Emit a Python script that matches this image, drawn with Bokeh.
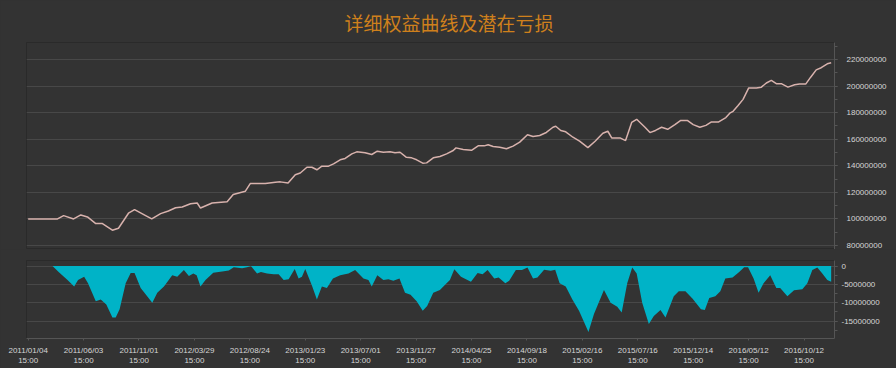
from bokeh.plotting import figure
from bokeh.layouts import column
from bokeh.models import Range1d, FixedTicker, NumeralTickFormatter, Title
from bokeh.embed import file_html
from bokeh.resources import INLINE

# ---- data (period index, value) ----
tick_index = [0, 10, 20, 30, 40, 50, 60, 70, 80, 90, 100, 110, 120, 130, 140]
tick_labels = ["2011/01/04", "2011/06/03", "2011/11/01", "2012/03/29", "2012/08/24",
               "2013/01/23", "2013/07/01", "2013/11/27", "2014/04/25", "2014/09/18",
               "2015/02/16", "2015/07/16", "2015/12/14", "2016/05/12", "2016/10/12"]
tick_time = "15:00"

equity_x = [0, 5.3, 6.4, 8.2, 9.5, 10.7, 12.2, 13.4, 15.2, 16.3, 18.1, 19.2, 21.2, 22.3,
            23.9, 25.3, 26.6, 27.8, 29.3, 30.5, 31.1, 33.2, 35.9, 37.0, 39.2, 40.1, 42.8,
            44.6, 45.5, 46.9, 48.2, 49.1, 50.3, 51.2, 52.1, 53.0, 54.2, 55.1, 56.3, 57.2,
            58.4, 59.3, 60.8, 62.0, 63.0, 64.1, 65.3, 66.2, 67.1, 68.2, 69.2, 70.1, 71.2,
            71.9, 73.1, 74.3, 75.5, 76.7, 77.2, 78.5, 80.0, 81.2, 82.3, 83.0, 83.9, 85.1,
            86.3, 87.5, 88.7, 90.1, 91.1, 92.3, 93.5, 94.7, 95.2, 96.1, 97.0, 98.3, 99.5,
            101.0, 102.3, 103.7, 104.6, 105.3, 106.8, 107.8, 108.9, 109.8, 111.3, 112.2,
            113.2, 114.3, 115.4, 116.7, 117.7, 119.0, 120.0, 121.2, 122.3, 123.3, 124.6,
            125.9, 126.6, 127.2, 128.1, 129.0, 130.0, 131.4, 132.3, 133.2, 134.1, 135.0,
            135.9, 137.1, 138.3, 139.2, 140.3, 141.2, 142.2, 143.1, 144.2, 144.9]
equity_m = [100, 100, 102.5, 100, 103, 101.5, 96.5, 96.5, 91.5, 93, 104.3, 107, 102.5, 100,
            104, 106, 108.4, 109, 111.4, 112, 108.2, 112, 113, 118.4, 120.9, 126.7, 126.7,
            127.7, 127.9, 127, 133.3, 134.6, 138.9, 138.9, 137, 139.7, 139.7, 141.5, 144.5, 145.5,
            149, 150.5, 149.8, 148.5, 151, 150.2, 150.5, 149.8, 150.2, 146.5, 146, 144.5, 142,
            142.2, 146, 147, 149, 151.5, 153.5, 152.3, 151.7, 155, 155, 155.8, 154.5, 154,
            152.8, 154.8, 157.8, 163.4, 162.1, 162.8, 165.1, 169, 169.8, 166.6, 165.6, 161.5, 158.5,
            153.7, 158.5, 164.5, 166, 161, 161, 159, 172.6, 175, 169, 165,
            166.6, 169, 167.5, 171, 174, 174, 171, 169, 170.4, 173, 173,
            176.3, 179.6, 181, 185.4, 190, 198.5, 198.5, 199.2, 202.3, 204.3, 201.8,
            201.8, 199.2, 201, 201.5, 201.5, 206.7, 212.2, 213.8, 216.8, 217.5]

dd_x = [0, 4.4, 5.5, 7.1, 8.3, 9.0, 10.1, 10.8, 12.2, 13.1, 14.1, 15.2, 15.8, 16.5, 17.6,
        18.5, 19.2, 20.3, 22.4, 23.3, 24.5, 26.0, 26.9, 28.1, 29.0, 29.8, 30.4, 31.1, 32.0,
        33.4, 35.0, 36.2, 37.1, 38.6, 39.5, 40.2, 41.3, 42.0, 43.1, 44.3, 45.2, 46.1, 47.0,
        48.1, 48.8, 49.4, 50.0, 51.2, 52.1, 53.0, 53.9, 55.0, 56.3, 57.8, 59.0, 60.5, 61.4,
        62.0, 63.0, 64.1, 65.0, 65.9, 67.0, 68.0, 69.0, 70.1, 71.2, 72.0, 73.1, 74.3, 75.5,
        76.1, 76.9, 78.1, 79.9, 81.1, 82.0, 82.9, 84.1, 84.9, 86.1, 86.8, 88.0, 89.1, 90.1,
        91.1, 91.9, 93.1, 94.3, 95.1, 95.9, 97.0, 98.2, 99.4, 101.1, 102.1, 103.9, 105.1,
        106.3, 107.1, 108.1, 109.0, 109.8, 110.8, 112.0, 112.9, 114.1, 115.0, 116.5, 117.4,
        118.6, 119.9, 121.4, 122.1, 122.9, 124.0, 124.9, 125.8, 127.1, 128.3, 129.2, 129.9,
        130.9, 131.8, 132.7, 133.9, 135.0, 135.7, 137.0, 138.2, 139.7, 140.6, 141.5, 142.4,
        143.3, 144.2, 144.9]
dd_m = [0, 0, -1.6, -3.8, -5.6, -3.8, -2.9, -4.7, -9.6, -9.1, -10.5, -14, -14, -11.8, -4.7,
        -1.9, -1.9, -6, -10, -7.3, -5.6, -2.5, -2.9, -1.1, -2.7, -2, -2.5, -5.6, -3.8,
        -1.8, -1.5, -1.2, -0.3, -0.6, -0.3, 0, -2, -1.6, -2, -2.2, -2.2, -3.8, -3.6,
        -0.8, -3.4, -2.9, -0.8, -5.3, -9.1, -5.6, -6, -3.4, -2.5, -2, -1.1, -3.4, -3.8,
        -5.6, -2.5, -3.8, -3.6, -4, -3.4, -7.3, -7.8, -9.6, -12.2, -10.9, -7.3, -6.5, -4.7,
        -3.8, -0.9, -2.9, -4.3, -1.9, -2.2, -1.1, -3.4, -3.1, -4.7, -4, -1.1, -1.1, -0.4,
        -3.4, -3.1, -1, -1.3, -1, -4.7, -5.6, -9.1, -12.2, -18, -13.1, -6.5, -10,
        -11.1, -12.7, -4.7, -0.4, -2, -10, -15.8, -13.6, -12, -14, -8.2, -6.9,
        -6.9, -8.9, -11.8, -12, -8.7, -8.2, -6.9, -3.4, -3.1, -1.6, -0.3, -0.3,
        -3.4, -7.3, -4.7, -2.5, -6, -6, -8.2, -6.6, -6.3, -4.7, -1.1, -0.4,
        -2, -3.8, -4.3]

equity_ticks_m = [80, 100, 120, 140, 160, 180, 200, 220]
dd_ticks_m = [0, -5, -10, -15]
title_text = "详细权益曲线及潜在亏损"

# ---- styling ----
BG = "#333333"
GRID = "#484848"
TXT = "#d6d6d6"
LINE = "#d8b2ad"
FILL = "#00b3c7"
W = 896
X_RANGE = Range1d(-0.3, 145.5)

equity = [v * 1e6 for v in equity_m]
dd = [v * 1e6 for v in dd_m]


def style(p):
    p.background_fill_color = BG
    p.border_fill_color = BG
    p.outline_line_color = "#2a2a2a"
    p.xgrid.visible = False
    p.ygrid.grid_line_color = GRID
    p.ygrid.grid_line_width = 1
    p.min_border_left = 26
    p.min_border_right = W - 834


def style_yaxis(ax, standoff):
    ax.formatter = NumeralTickFormatter(format="0")
    ax.axis_line_color = "#555555"
    ax.major_tick_line_color = "#555555"
    ax.minor_tick_line_color = "#555555"
    ax.major_tick_in = 0
    ax.major_tick_out = 3
    ax.minor_tick_in = 0
    ax.minor_tick_out = 3
    ax.major_label_standoff = standoff
    ax.major_label_text_font = "Liberation Sans"
    ax.major_label_text_font_size = "8px"
    ax.major_label_text_color = TXT


p1 = figure(width=W, height=249, x_range=X_RANGE, y_range=Range1d(77e6, 232.8e6),
            output_backend="svg", toolbar_location=None, x_axis_location=None,
            y_axis_location="right")
style(p1)
p1.min_border_top = 42
p1.min_border_bottom = 0
p1.title = Title(text=title_text, align="left", text_font="Noto Sans CJK SC",
                 text_font_size="19px", text_font_style="normal", text_color="#cf801c",
                 standoff=13, offset=318)
p1.line(equity_x, equity, line_color=LINE, line_width=1.5)
yax = p1.yaxis[0]
yax.ticker = FixedTicker(ticks=[v * 1e6 for v in equity_ticks_m],
                         minor_ticks=[v * 1e6 for v in range(80, 232, 10)])
style_yaxis(yax, 9)

p2 = figure(width=W, height=119, x_range=X_RANGE, y_range=Range1d(-19.76e6, 1.52e6),
            output_backend="svg", toolbar_location=None, y_axis_location="right")
style(p2)
p2.min_border_top = 11
p2.min_border_bottom = 28
p2.varea(x=dd_x, y1=[0] * len(dd_x), y2=dd, fill_color=FILL, fill_alpha=1.0)
yax2 = p2.yaxis[0]
yax2.ticker = FixedTicker(ticks=[v * 1e6 for v in dd_ticks_m],
                          minor_ticks=[v * 1e6 for v in [0, -2.5, -5, -7.5, -10, -12.5, -15, -17.5]])
style_yaxis(yax2, 4)

xax = p2.xaxis[0]
xax.ticker = FixedTicker(ticks=tick_index)
xax.major_label_overrides = {i: f"{lab}\n{tick_time}" for i, lab in zip(tick_index, tick_labels)}
xax.axis_line_color = "#555555"
xax.major_tick_line_color = "#555555"
xax.minor_tick_line_color = None
xax.major_tick_in = 0
xax.major_tick_out = 2
xax.major_label_standoff = 5
xax.major_label_text_font = "Liberation Sans"
xax.major_label_text_font_size = "8px"
xax.major_label_text_color = TXT
xax.major_label_text_line_height = 1.2

layout = column(p1, p2, spacing=0, styles={"background-color": BG})
open("out.html", "w").write(file_html(layout, INLINE))
